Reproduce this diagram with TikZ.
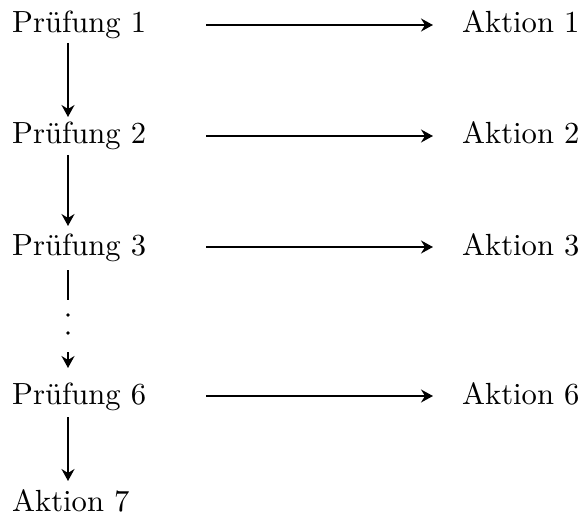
\documentclass[tikz,border=0pt]{standalone}
\usepackage{fontspec}
\setmainfont{lmroman10-regular.otf}
\usetikzlibrary{arrows.meta}
\begin{document}
\begin{tikzpicture}[x=1pt,y=-1pt,
  lbl/.style={anchor=base west,inner sep=0pt,font=\fontsize{30.6}{36}\selectfont},
  conn/.style={line width=1.8pt,-{Stealth[length=12pt,width=13pt,inset=4pt]}},
  dotmark/.style={circle,fill,inner sep=0pt,minimum size=3.6pt}]
\useasboundingbox (0,0) rectangle (581,516);
% checks in the left column, actions on the right
\node[lbl] (p1) at (12,33) {Prüfung 1};
\node[lbl] (a1) at (462,33) {Aktion 1};
\node[lbl] (p2) at (12,144) {Prüfung 2};
\node[lbl] (a2) at (462,144) {Aktion 2};
\node[lbl] (p3) at (12,255) {Prüfung 3};
\node[lbl] (a3) at (462,255) {Aktion 3};
\node[lbl] (p6) at (12,404) {Prüfung 6};
\node[lbl] (a6) at (462,404) {Aktion 6};
\node[lbl] (a7) at (12,511) {Aktion 7};
% horizontal arrows
\coordinate (h1s) at (206,25);  \coordinate (h1e) at (433,25);
\coordinate (h2s) at (206,136); \coordinate (h2e) at (433,136);
\coordinate (h3s) at (206,247); \coordinate (h3e) at (433,247);
\coordinate (h6s) at (206,396); \coordinate (h6e) at (433,396);
\draw[conn] (h1s) -- (h1e);
\draw[conn] (h2s) -- (h2e);
\draw[conn] (h3s) -- (h3e);
\draw[conn] (h6s) -- (h6e);
% vertical chain
\coordinate (v1s) at (68,43);  \coordinate (v1e) at (68,117);
\coordinate (v2s) at (68,155); \coordinate (v2e) at (68,226);
\coordinate (v3s) at (68,270); \coordinate (v3e) at (68,300);
\coordinate (v5s) at (68,352); \coordinate (v5e) at (68,368);
\coordinate (v6s) at (68,417); \coordinate (v6e) at (68,481);
\draw[conn] (v1s) -- (v1e);
\draw[conn] (v2s) -- (v2e);
\draw[line width=1.8pt] (v3s) -- (v3e);
\node[dotmark] (d1) at (68,315) {};
\node[dotmark] (d2) at (68,333) {};
\draw[conn] (v5s) -- (v5e);
\draw[conn] (v6s) -- (v6e);
\end{tikzpicture}
\end{document}
